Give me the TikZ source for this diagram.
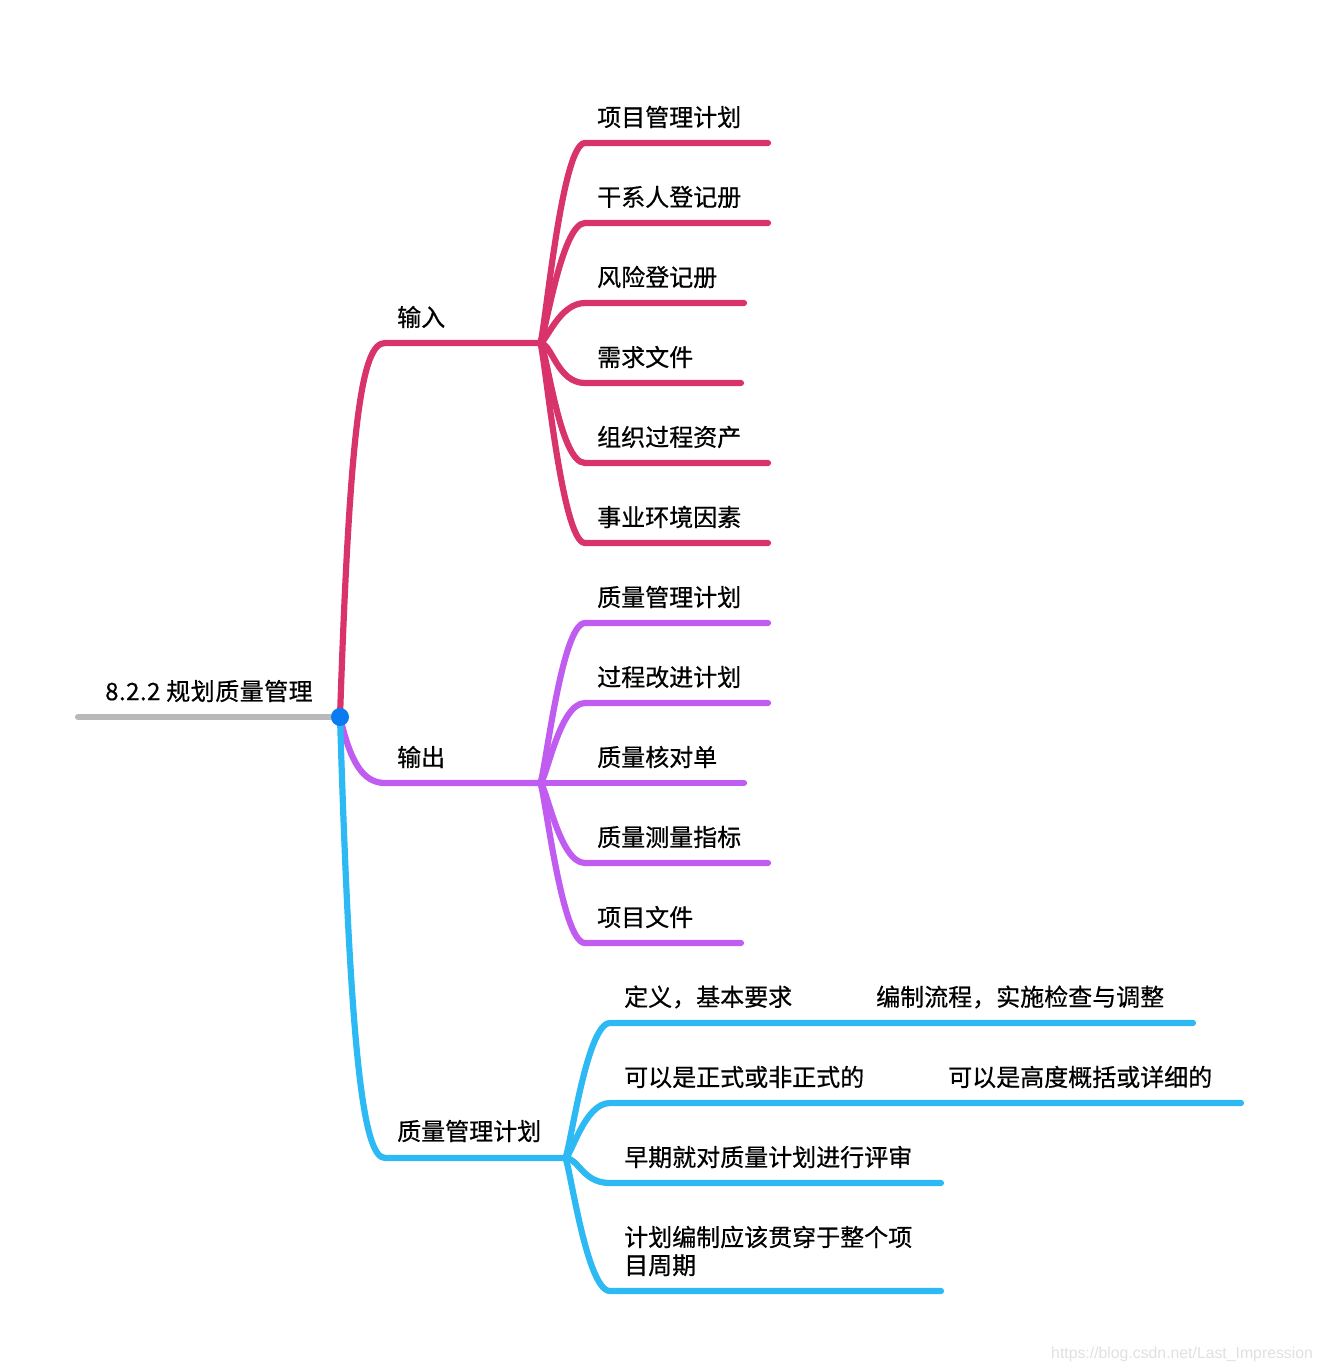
\documentclass[tikz,border=0pt]{standalone}
\usepackage{fontspec}
\newfontfamily\cjk[FakeBold=0.6]{Noto Sans CJK SC}
\newfontfamily\marksans{Liberation Sans}
\definecolor{inred}{HTML}{D9336B}
\definecolor{outpurple}{HTML}{C15CF0}
\definecolor{planblue}{HTML}{2DB9F3}
\definecolor{rootgray}{HTML}{B9B9B9}
\definecolor{dotblue}{HTML}{0A7BF0}

\begin{document}
\begin{tikzpicture}[
    x=1pt, y=-1pt,
    topic/.style={anchor=west, inner sep=0pt, font=\cjk\fontsize{24}{28}\selectfont},
    leaf/.style={topic, align=left},
    link/.style={line width=6.2pt, line cap=round},
    fan/.style={link}
]
\useasboundingbox (0,0) rectangle (1321,1372);

% root
\coordinate (root-start) at (78,717);
\coordinate (center) at (340,717);
\node[topic, font=\cjk\fontsize{24}{28}\selectfont\addfontfeatures{LetterSpace=2}] (root) at (105,691) {8.2.2 规划质量管理};
\draw[link, rootgray] (root-start) -- (center);

% inputs
\coordinate (in-l) at (385,343);
\coordinate (in) at (540,343);
\node[topic] (input) at (397,317) {输入};
\draw[link, inred] (center) .. controls (350,420) and (362,343) .. (in-l) -- (in);

\coordinate (in-a) at (585,143); \coordinate (in-a-end) at (768,143);
\coordinate (in-b) at (585,223); \coordinate (in-b-end) at (768,223);
\coordinate (in-c) at (585,303); \coordinate (in-c-end) at (744,303);
\coordinate (in-d) at (585,383); \coordinate (in-d-end) at (741,383);
\coordinate (in-e) at (585,463); \coordinate (in-e-end) at (768,463);
\coordinate (in-f) at (585,543); \coordinate (in-f-end) at (768,543);
\node[leaf] (plan-pm) at (597,117) {项目管理计划};
\node[leaf] (stake-reg) at (597,197) {干系人登记册};
\node[leaf] (risk-reg) at (597,277) {风险登记册};
\node[leaf] (req-doc) at (597,357) {需求文件};
\node[leaf] (opa) at (597,437) {组织过程资产};
\node[leaf] (eef) at (597,517) {事业环境因素};
\draw[fan, inred] (in) .. controls +(4,0) and +(-24,0) .. (in-a) -- (in-a-end);
\draw[fan, inred] (in) .. controls +(4,0) and +(-24,0) .. (in-b) -- (in-b-end);
\draw[fan, inred] (in) .. controls +(6,0) and +(-26,0) .. (in-c) -- (in-c-end);
\draw[fan, inred] (in) .. controls +(12,0) and +(-28,0) .. (in-d) -- (in-d-end);
\draw[fan, inred] (in) .. controls +(6,0) and +(-26,0) .. (in-e) -- (in-e-end);
\draw[fan, inred] (in) .. controls +(4,0) and +(-24,0) .. (in-f) -- (in-f-end);

% outputs
\coordinate (out-l) at (385,783);
\coordinate (out) at (540,783);
\node[topic] (output) at (397,757) {输出};
\draw[link, outpurple] (center) .. controls (350,760) and (362,783) .. (out-l) -- (out);

\coordinate (out-a) at (585,623); \coordinate (out-a-end) at (768,623);
\coordinate (out-b) at (585,703); \coordinate (out-b-end) at (768,703);
\coordinate (out-c) at (585,783); \coordinate (out-c-end) at (744,783);
\coordinate (out-d) at (585,863); \coordinate (out-d-end) at (768,863);
\coordinate (out-e) at (585,943); \coordinate (out-e-end) at (741,943);
\node[leaf] (qm-plan) at (597,597) {质量管理计划};
\node[leaf] (pi-plan) at (597,677) {过程改进计划};
\node[leaf] (checklist) at (597,757) {质量核对单};
\node[leaf] (metrics) at (597,837) {质量测量指标};
\node[leaf] (proj-doc) at (597,917) {项目文件};
\draw[fan, outpurple] (out) .. controls +(4,0) and +(-24,0) .. (out-a) -- (out-a-end);
\draw[fan, outpurple] (out) .. controls +(6,0) and +(-26,0) .. (out-b) -- (out-b-end);
\draw[fan, outpurple] (out) -- (out-c-end);
\draw[fan, outpurple] (out) .. controls +(6,0) and +(-26,0) .. (out-d) -- (out-d-end);
\draw[fan, outpurple] (out) .. controls +(4,0) and +(-24,0) .. (out-e) -- (out-e-end);

% quality management plan
\coordinate (qp-l) at (385,1158);
\coordinate (qp) at (565,1158);
\node[topic] (qplan) at (397,1131) {质量管理计划};
\draw[link, planblue] (center) .. controls (350,1040) and (362,1158) .. (qp-l) -- (qp);

\coordinate (qp-a) at (610,1023); \coordinate (qp-a-end) at (1193,1023);
\coordinate (qp-b) at (610,1103); \coordinate (qp-b-end) at (1241,1103);
\coordinate (qp-c) at (610,1183); \coordinate (qp-c-end) at (941,1183);
\coordinate (qp-d) at (610,1291); \coordinate (qp-d-end) at (941,1291);
\node[leaf] (define) at (624,997) {定义，基本要求};
\node[leaf] (compile) at (876,997) {编制流程，实施检查与调整};
\node[leaf] (formal) at (624,1077) {可以是正式或非正式的};
\node[leaf] (detail) at (948,1077) {可以是高度概括或详细的};
\node[leaf] (review) at (624,1157) {早期就对质量计划进行评审};
\node[leaf] (through) at (624,1251) {计划编制应该贯穿于整个项\\目周期};
\draw[fan, planblue] (qp) .. controls +(4,0) and +(-24,0) .. (qp-a) -- (qp-a-end);
\draw[fan, planblue] (qp) .. controls +(6,0) and +(-26,0) .. (qp-b) -- (qp-b-end);
\draw[fan, planblue] (qp) .. controls +(14,0) and +(-28,0) .. (qp-c) -- (qp-c-end);
\draw[fan, planblue] (qp) .. controls +(4,0) and +(-24,0) .. (qp-d) -- (qp-d-end);

\fill[dotblue] (center) circle (9pt);

\node[anchor=west, inner sep=0pt, text=black!12, font=\marksans\fontsize{15.8}{17}\selectfont]
  (mark) at (1051,1354) {https://blog.csdn.net/Last\_Impression};
\end{tikzpicture}
\end{document}
